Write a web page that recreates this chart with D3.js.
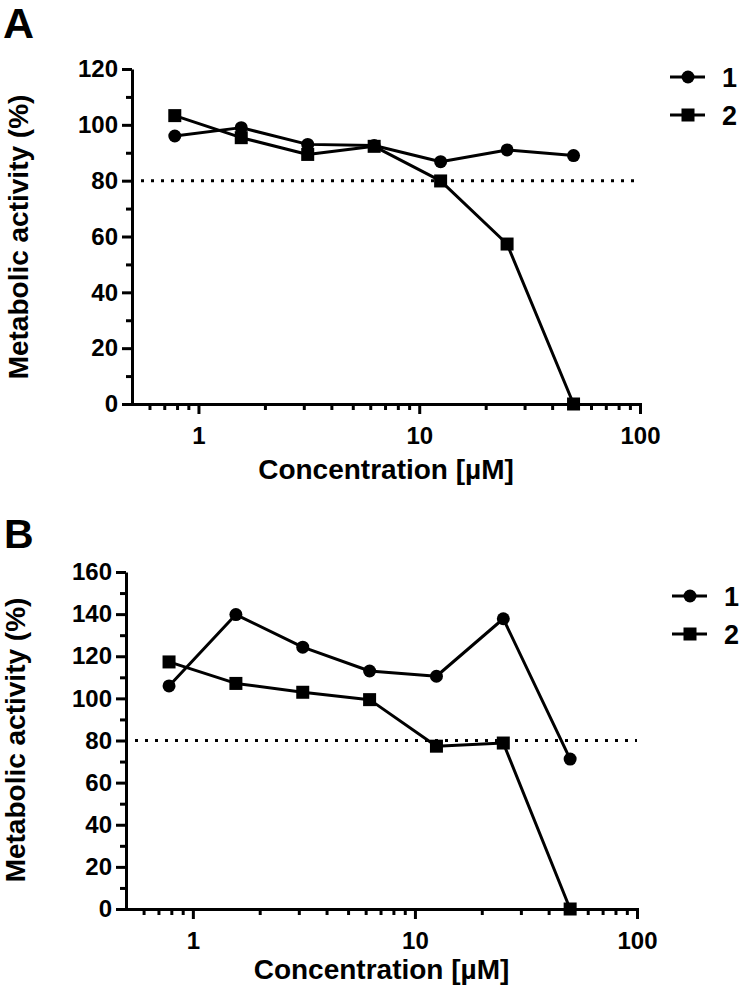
<!DOCTYPE html>
<html>
<head>
<meta charset="utf-8">
<script src="https://cdn.jsdelivr.net/npm/d3@7"></script>
<style>
  html, body { margin: 0; padding: 0; background: #fff; }
  svg { display: block; }
  text { font-family: "Liberation Sans", Arial, sans-serif; font-weight: bold; fill: #000; }
</style>
</head>
<body>
<svg id="chart" width="743" height="991"></svg>
<script>
// ---------------- data ----------------
const concentrations = [0.78125, 1.5625, 3.125, 6.25, 12.5, 25, 50];
const seriesNames = ["1", "2"];
const panelA_series1 = [96, 99, 93, 92.6, 86.8, 91, 89];
const panelA_series2 = [103.3, 95.4, 89.4, 92.3, 79.9, 57.3, 0];
const panelB_series1 = [105.9, 139.8, 124.3, 113, 110.5, 137.8, 71.2];
const panelB_series2 = [117.3, 107.1, 102.9, 99.4, 77.3, 78.8, 0];
const yTicksA = [0, 20, 40, 60, 80, 100, 120];
const yTicksB = [0, 20, 40, 60, 80, 100, 120, 140, 160];
const xMajorTicks = [1, 10, 100];
const xMinorTicks = [0.6, 0.7, 0.8, 0.9, 2, 3, 4, 5, 6, 7, 8, 9, 20, 30, 40, 50, 60, 70, 80, 90];
const xDomain = [0.5, 100];
const thresholdValue = 80;
const xTitle = "Concentration [\u00B5M]";
const yTitle = "Metabolic activity (%)";

// ---------------- layout ----------------
const svg = d3.select("#chart");

const panels = [
  { label: "A", labelX: 3, labelY: 38, labelSize: 43,
    left: 132, right: 640, top: 69, bottom: 404, yMax: 120, yTicks: yTicksA,
    s1: panelA_series1, s2: panelA_series2,
    yTitleX: 28, yTitleY: 237, xTitleY: 479,
    legendX: 670, legendY: [77, 115] },
  { label: "B", labelX: 4, labelY: 548, labelSize: 41,
    left: 126, right: 637, top: 572, bottom: 909, yMax: 160, yTicks: yTicksB,
    s1: panelB_series1, s2: panelB_series2,
    yTitleX: 25, yTitleY: 740, xTitleY: 979,
    legendX: 672, legendY: [596, 634] }
];

panels.forEach(p => {
  const g = svg.append("g");
  const x = d3.scaleLog().domain(xDomain).range([p.left, p.right]);
  const y = d3.scaleLinear().domain([0, p.yMax]).range([p.bottom, p.top]);

  // panel letter
  g.append("text").attr("x", p.labelX).attr("y", p.labelY)
    .attr("font-size", p.labelSize).text(p.label);

  // threshold dotted line
  g.append("line")
    .attr("x1", x(xDomain[0]) + 9).attr("x2", x(xDomain[1]))
    .attr("y1", y(thresholdValue)).attr("y2", y(thresholdValue))
    .attr("stroke", "#000").attr("stroke-width", 3)
    .attr("stroke-dasharray", "3 7");

  // y minor ticks
  const yMinor = p.yTicks.slice(0, -1).map(v => v + (p.yTicks[1] - p.yTicks[0]) / 2);
  const yMinorAxis = g.append("g").attr("transform", `translate(${p.left},0)`)
    .call(d3.axisLeft(y).tickValues(yMinor).tickSize(6).tickFormat(""));
  yMinorAxis.select(".domain").remove();

  // y major axis
  const yAxis = g.append("g").attr("transform", `translate(${p.left},0)`)
    .call(d3.axisLeft(y).tickValues(p.yTicks).tickSize(10).tickPadding(4).tickSizeOuter(0));

  // x minor ticks
  const xMinorAxis = g.append("g").attr("transform", `translate(0,${p.bottom})`)
    .call(d3.axisBottom(x).tickValues(xMinorTicks).tickSize(6).tickFormat(""));
  xMinorAxis.select(".domain").remove();

  // x major axis
  const xAxis = g.append("g").attr("transform", `translate(0,${p.bottom})`)
    .call(d3.axisBottom(x).tickValues(xMajorTicks).tickSize(10).tickPadding(13)
      .tickSizeOuter(0).tickFormat(d3.format("d")));

  [yMinorAxis, yAxis, xMinorAxis, xAxis].forEach(a => {
    a.selectAll("path, line").attr("stroke", "#000").attr("stroke-width", 3);
    a.selectAll("text").attr("font-size", 24).attr("font-family", "Liberation Sans, Arial, sans-serif")
      .attr("font-weight", "bold").attr("fill", "#000");
  });
  xAxis.select(".domain").attr("stroke-linecap", "square");

  // axis titles
  g.append("text").attr("x", (p.left + p.right) / 2).attr("y", p.xTitleY)
    .attr("text-anchor", "middle").attr("font-size", 28).text(xTitle);
  g.append("text")
    .attr("transform", `translate(${p.yTitleX},${p.yTitleY}) rotate(-90)`)
    .attr("text-anchor", "middle").attr("font-size", 28).text(yTitle);

  // series
  const line = d3.line().x(d => x(d.c)).y(d => y(d.v));
  const s1 = concentrations.map((c, i) => ({ c, v: p.s1[i] }));
  const s2 = concentrations.map((c, i) => ({ c, v: p.s2[i] }));

  [s1, s2].forEach(s => {
    g.append("path").datum(s).attr("d", line)
      .attr("fill", "none").attr("stroke", "#000").attr("stroke-width", 3)
      .attr("stroke-linejoin", "round");
  });
  g.selectAll(null).data(s1).enter().append("circle")
    .attr("cx", d => x(d.c)).attr("cy", d => y(d.v)).attr("r", 6.5).attr("fill", "#000");
  g.selectAll(null).data(s2).enter().append("rect")
    .attr("x", d => x(d.c) - 6.5).attr("y", d => y(d.v) - 6.5)
    .attr("width", 13).attr("height", 13).attr("fill", "#000");

  // legend
  seriesNames.forEach((name, i) => {
    const ly = p.legendY[i];
    g.append("line").attr("x1", p.legendX).attr("x2", p.legendX + 35)
      .attr("y1", ly).attr("y2", ly).attr("stroke", "#000").attr("stroke-width", 3);
    if (i === 0) {
      g.append("circle").attr("cx", p.legendX + 18).attr("cy", ly).attr("r", 6.5).attr("fill", "#000");
    } else {
      g.append("rect").attr("x", p.legendX + 18 - 6.5).attr("y", ly - 6.5)
        .attr("width", 13).attr("height", 13).attr("fill", "#000");
    }
    g.append("text").attr("x", p.legendX + 52).attr("y", ly).attr("dy", "0.36em")
      .attr("font-size", 27).text(name);
  });
});
</script>
</body>
</html>
